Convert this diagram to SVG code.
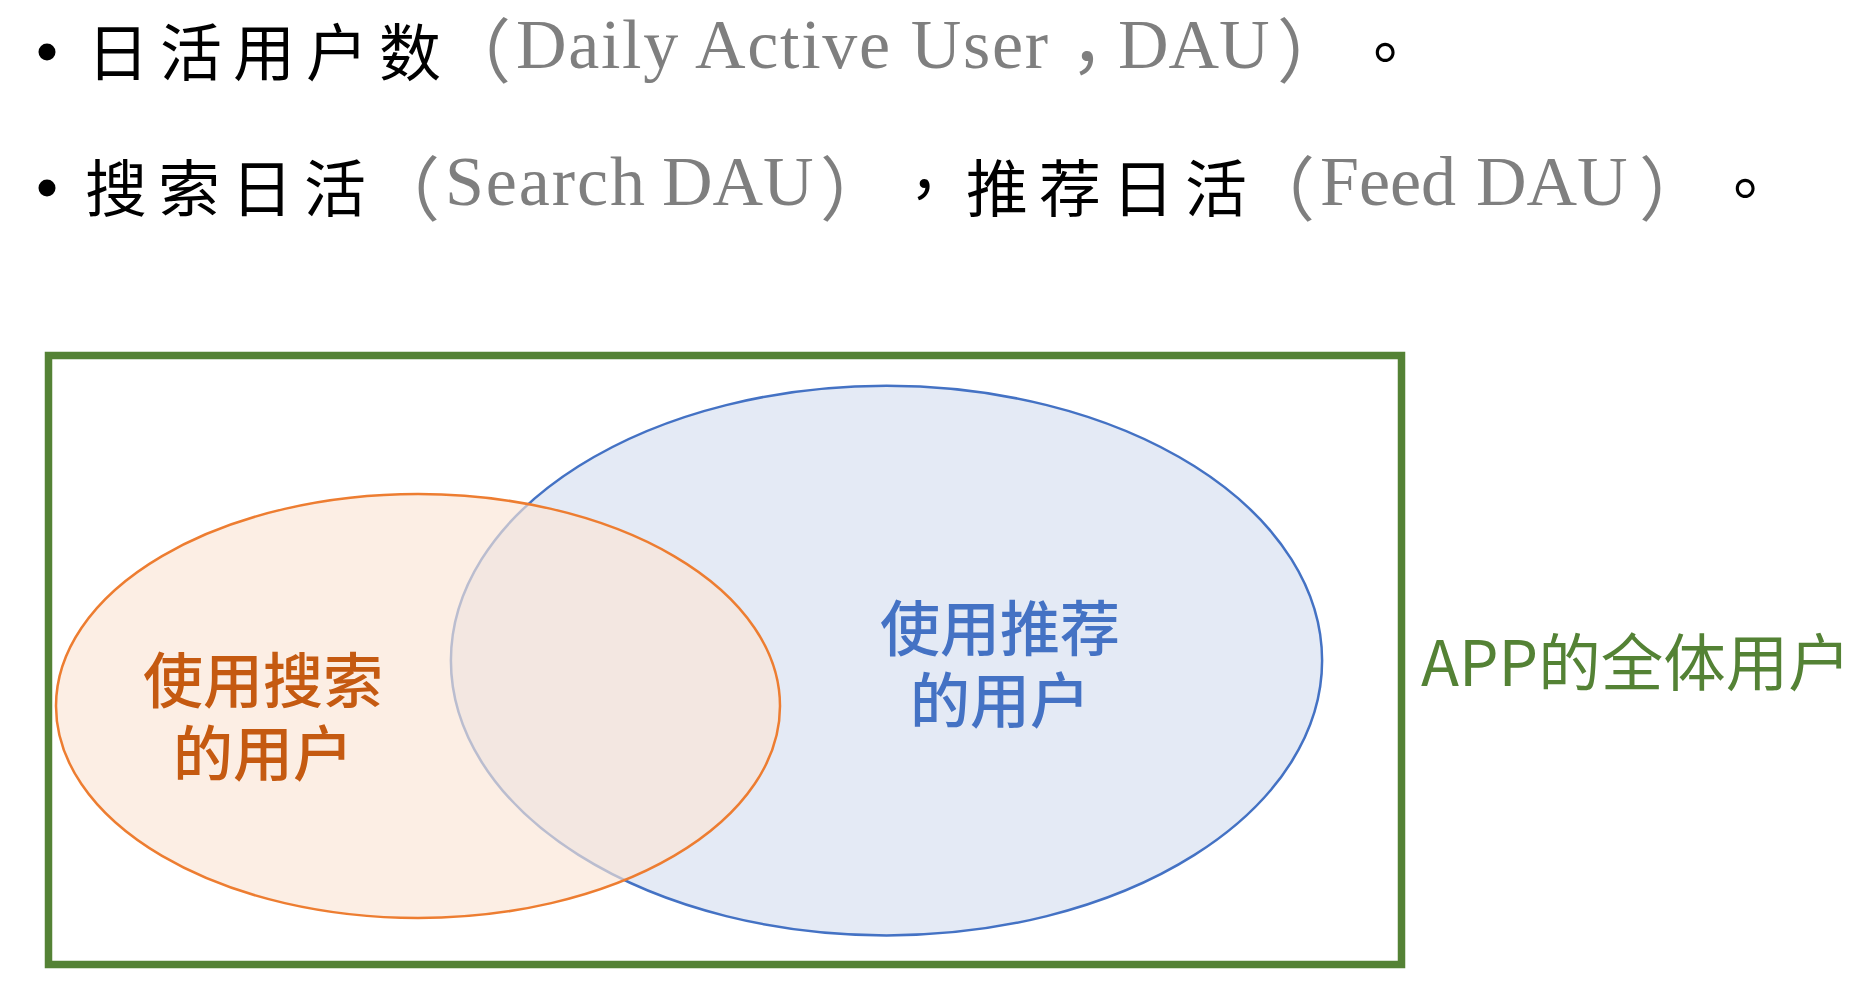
<svg xmlns="http://www.w3.org/2000/svg" width="1862" height="989" viewBox="0 0 1862 989">
  <style>
    .blk { font-family: "Noto Sans CJK SC", "Noto Sans CJK TC", sans-serif; font-size: 62px; fill: #000000; letter-spacing: 11px; }
    .tcp { font-family: "Noto Sans CJK TC", "Noto Sans CJK SC", sans-serif; }
    .gry { font-family: "Liberation Serif", "Noto Sans CJK SC", serif; font-size: 70px; fill: #7F7F7F; }
    .cjkp { font-family: "Noto Sans CJK SC", sans-serif; }
    .lbl { font-family: "Noto Sans CJK SC", "Noto Sans CJK TC", sans-serif; font-size: 60px; font-weight: 500; text-anchor: middle; }
    .bullet { fill: #000000; }
  </style>
  <rect width="1862" height="989" fill="#FFFFFF"/>

  <g id="line1">
    <circle class="bullet" cx="47" cy="52" r="8.5"/>
    <text class="blk" x="87" y="76">日活用户数</text>
    <text class="gry"><tspan class="cjkp" x="441" y="77">（</tspan><tspan x="516" y="68" textLength="532" lengthAdjust="spacing">Daily Active User</tspan><tspan class="cjkp" x="1070" y="68">，</tspan><tspan x="1118" y="68">DAU</tspan><tspan class="cjkp" x="1277" y="77">）</tspan></text>
    <text class="blk tcp" x="1354" y="76">。</text>
  </g>

  <g id="line2">
    <circle class="bullet" cx="47" cy="188" r="8.5"/>
    <text class="blk" x="85" y="212">搜索日活</text>
    <text class="gry"><tspan class="cjkp" x="370" y="215">（</tspan><tspan x="445" y="205" textLength="200" lengthAdjust="spacing">Search</tspan><tspan x="662" y="205">DAU</tspan><tspan class="cjkp" x="820" y="215">）</tspan></text>
    <text class="blk" x="893" y="212"><tspan class="tcp">，</tspan>推荐日活</text>
    <text class="gry"><tspan class="cjkp" x="1245" y="215">（</tspan><tspan x="1320" y="205">Feed</tspan><tspan x="1476" y="205">DAU</tspan><tspan class="cjkp" x="1639" y="215">）</tspan></text>
    <text class="blk tcp" x="1714" y="212">。</text>
  </g>

  <g id="all-users">
    <rect x="48.5" y="355.5" width="1353" height="609" fill="none" stroke="#548235" stroke-width="7.5"/>
    <text x="1421" y="686" font-family="Noto Sans CJK SC, sans-serif" font-size="62.5" fill="#548235">APP的全体用户</text>
  </g>

  <g id="feed-users">
    <ellipse cx="886.5" cy="660.6" rx="435.6" ry="274.8" fill="#E4EAF5" stroke="#4472C4" stroke-width="2.5"/>
    <text class="lbl" fill="#4472C4"><tspan x="1000" y="651">使用推荐</tspan><tspan x="1000" y="723">的用户</tspan></text>
  </g>

  <g id="search-users">
    <ellipse cx="418" cy="706" rx="362" ry="212" fill="#FBE5D6" fill-opacity="0.65" stroke="#ED7D31" stroke-width="2.5"/>
    <text class="lbl" fill="#C55A11"><tspan x="263" y="703">使用搜索</tspan><tspan x="263" y="776">的用户</tspan></text>
  </g>
</svg>
